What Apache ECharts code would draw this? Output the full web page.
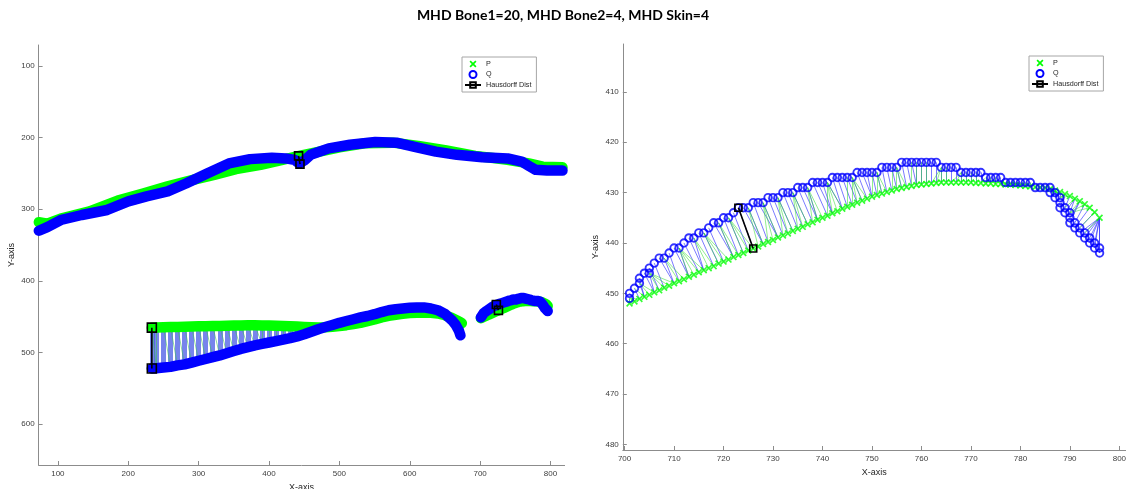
<!DOCTYPE html>
<html><head><meta charset="utf-8">
<script src="https://cdn.jsdelivr.net/npm/echarts@6/dist/echarts.min.js"></script>
<style>html,body{margin:0;padding:0;background:#fff}#c{width:1126px;height:489px}</style>
</head><body><div id="c"></div>
<script>
const titleText = 'MHD Bone1=20, MHD Bone2=4, MHD Skin=4';
const leftXTicks = [100, 200, 300, 400, 500, 600, 700, 800];
const leftYTicks = [100, 200, 300, 400, 500, 600];
const rightXTicks = [700, 710, 720, 730, 740, 750, 760, 770, 780, 790, 800];
const rightYTicks = [410, 420, 430, 440, 450, 460, 470, 480];

// Skin contour (top curve, left chart)
const skinP = [[73,318],[85,320],[104,313],[145,303],[185,288],[221,278],[256,268],[292,259],[322,252],[353,244],[388,238],[419,231],[443,225.5],[465,221],[500,213.5],[536,208],[576,207],[612,211.5],[652,218],[693,225.5],[739,231],[769,236],[789,240.5],[817,241.5]];
const skinQ = [[73,330],[85,325],[104,315],[134,308],[170,301],[200,289],[226,282],[256,275],[282,264],[312,250],[343,236],[373,230],[404,228],[424,229],[436,231],[443,236],[450,232],[459,224],[485,215],[515,210],[551,206],[581,207],[607,213],[637,219.5],[667,224],[703,227.5],[739,229],[759,233.5],[770,240],[779,245],[795,246],[817,246]];

// Bone1 contour (long lower curve, left chart)
const bone1P = [[233.5,465.3],[240,465],[250,464.7],[260,464.4],[270,464.2],[280,463.9],[290,463.6],[300,463.4],[310,463.2],[320,463],[330,462.8],[340,462.6],[350,462.4],[360,462.2],[370,462],[380,462],[390,462.1],[400,462.3],[410,462.6],[420,462.9],[430,463.3],[440,463.7],[450,464.2],[460,464.6],[470,464.9],[480,464.7],[490,464],[500,463],[510,461.8],[520,460.3],[530,458.6],[540,456.3],[550,453.8],[560,451],[570,448.8],[580,447.2],[590,446],[600,445],[610,444.4],[620,444.2],[630,444.4],[640,445.5],[650,448],[660,451.8],[670,456.5],[674,459]];
const bone1Q = [[233.5,522.2],[240,521.8],[250,521],[260,520],[270,518],[280,516.5],[290,514],[300,511.5],[310,509],[320,506.5],[330,504],[340,501],[350,498],[360,495],[370,492.5],[380,490],[390,488],[400,486],[410,484],[420,482],[430,480],[440,477.5],[450,474.5],[460,471],[470,467.5],[480,464.5],[490,461.5],[500,458.5],[510,456],[520,453.5],[530,451],[540,449],[550,446.5],[560,443.5],[570,441],[580,439.5],[590,438.5],[600,437.5],[610,437],[620,437],[630,438.5],[640,441],[650,446],[660,455],[665,461],[670,470],[672,476]];

// Bone2 contour (small arc, left chart; zoomed in right chart)
const bone2P = [[701,452],[702,451.6],[703,451.1],[704,450.7],[705,450.3],[706,449.8],[707,449.4],[708,448.9],[709,448.5],[710,448],[711,447.6],[712,447.2],[713,446.7],[714,446.3],[715,445.8],[716,445.4],[717,445],[718,444.6],[719,444.1],[720,443.7],[721,443.3],[722,442.8],[723,442.4],[724,442],[725,441.5],[726,441.1],[727,440.7],[728,440.2],[729,439.8],[730,439.4],[731,438.9],[732,438.5],[733,438.1],[734,437.6],[735,437.2],[736,436.8],[737,436.3],[738,435.9],[739,435.4],[740,435],[741,434.6],[742,434.1],[743,433.7],[744,433.2],[745,432.8],[746,432.4],[747,432],[748,431.6],[749,431.2],[750,430.8],[751,430.5],[752,430.2],[753,429.9],[754,429.6],[755,429.3],[756,429.1],[757,428.9],[758,428.7],[759,428.5],[760,428.4],[761,428.3],[762,428.2],[763,428.1],[764,428],[765,428],[766,428],[767,428],[768,428],[769,428],[770,428],[771,428.1],[772,428.1],[773,428.2],[774,428.2],[775,428.3],[776,428.3],[777,428.4],[778,428.4],[779,428.5],[780,428.6],[781,428.7],[782,428.8],[783,428.9],[784,429],[785,429.1],[786,429.3],[787,429.6],[788,429.9],[789,430.3],[790,430.7],[791,431.2],[792,431.7],[793,432.3],[794,433],[795,433.9],[796,435]];
const bone2Q = [[701,451],[701,450],[702,449],[703,448],[703,447],[704,446],[705,446],[705,445],[706,444],[707,443],[708,443],[709,442],[710,441],[711,441],[712,440],[713,439],[714,439],[715,438],[716,438],[717,437],[718,436],[719,436],[720,435],[721,435],[722,434],[723,433],[724,433],[725,433],[726,432],[727,432],[728,432],[729,431],[730,431],[731,431],[732,430],[733,430],[734,430],[735,429],[736,429],[737,429],[738,428],[739,428],[740,428],[741,428],[742,427],[743,427],[744,427],[745,427],[746,427],[747,426],[748,426],[749,426],[750,426],[751,426],[752,425],[753,425],[754,425],[755,425],[756,424],[757,424],[758,424],[759,424],[760,424],[761,424],[762,424],[763,424],[764,425],[765,425],[766,425],[767,425],[768,426],[769,426],[770,426],[771,426],[772,426],[773,427],[774,427],[775,427],[776,427],[777,428],[778,428],[779,428],[780,428],[781,428],[782,428],[783,429],[784,429],[785,429],[786,429],[786,430],[787,430],[787,431],[788,431],[788,432],[788,433],[789,433],[789,434],[790,434],[790,435],[790,436],[791,436],[791,437],[792,437],[792,438],[793,438],[793,439],[794,439],[794,440],[795,440],[795,441],[796,441],[796,442]];

// Hausdorff distance segments [P point, Q point]
const hausSkin = [[442,225.5],[444,237]];
const hausBone1 = [[233.5,465.3],[233.5,522.2]];
const hausBone2 = [[726,441.1],[723,433]];

const GREEN = '#00ff00', BLUE = '#0000ff';
const X_PATH = 'path://M0,1.7L1.7,0L5,3.3L8.3,0L10,1.7L6.7,5L10,8.3L8.3,10L5,6.7L1.7,10L0,8.3L3.3,5Z';

function nearestLinks(from, to) {
  return from.map(a => {
    let best = to[0], bd = Infinity;
    for (const b of to) {
      const d = (a[0]-b[0])*(a[0]-b[0]) + (a[1]-b[1])*(a[1]-b[1]);
      if (d < bd) { bd = d; best = b; }
    }
    return { coords: [a, best] };
  });
}

const axisLineStyle = { color: '#8c8c8c', width: 1 };
const labelStyle = { fontSize: 8, color: '#404040', fontFamily: 'Liberation Sans' };
const nameStyle = { fontSize: 9, color: '#262626', fontFamily: 'Liberation Sans' };

function xAx(grid, min, max, ticks) {
  return {
    type: 'value', gridIndex: grid, min: min, max: max,
    name: 'X-axis', nameLocation: 'middle', nameGap: grid === 0 ? 16 : 17, nameTextStyle: nameStyle,
    axisLine: { show: true, lineStyle: axisLineStyle },
    axisTick: { show: true, inside: true, length: 4, lineStyle: axisLineStyle, customValues: ticks },
    axisLabel: { ...labelStyle, margin: 5, customValues: ticks },
    splitLine: { show: false }
  };
}
function yAx(grid, min, max, ticks) {
  return {
    type: 'value', gridIndex: grid, min: min, max: max, inverse: true,
    name: 'Y-axis', nameLocation: 'middle', nameGap: 23, nameTextStyle: nameStyle,
    axisLine: { show: true, onZero: false, lineStyle: axisLineStyle },
    axisTick: { show: true, inside: true, length: 4, lineStyle: axisLineStyle, customValues: ticks },
    axisLabel: { ...labelStyle, margin: 4, customValues: ticks },
    splitLine: { show: false }
  };
}

function band(name, data, color, z) {
  return {
    type: 'line', name: name, xAxisIndex: 0, yAxisIndex: 0, data: data,
    symbol: 'none', silent: true, animation: false, z: z,
    itemStyle: { color: color },
    lineStyle: { color: color, width: 10.5, cap: 'round', join: 'round' }
  };
}
function thin(idx, links, color, width, opacity, z) {
  return {
    type: 'lines', coordinateSystem: 'cartesian2d', xAxisIndex: idx, yAxisIndex: idx,
    data: links, silent: true, animation: false, z: z,
    lineStyle: { color: color, width: width, opacity: opacity, curveness: 0 }
  };
}
function haus(idx, data, size) {
  return {
    type: 'line', name: 'Hausdorff Dist', xAxisIndex: idx, yAxisIndex: idx, data: data,
    symbol: 'rect', symbolSize: size, showSymbol: true, animation: false, z: 10,
    itemStyle: { color: 'rgba(0,0,0,0)', borderColor: '#000', borderWidth: 1.6 },
    lineStyle: { color: '#000', width: 1.6 }
  };
}

function legendAt(left, top) {
  return {
    orient: 'vertical', left: left, top: top,
    padding: [3, 5, 3, 2], itemGap: 2, itemWidth: 16, itemHeight: 7,
    backgroundColor: '#fff', borderColor: '#a6a6a6', borderWidth: 1, borderRadius: 0,
    selectedMode: false,
    textStyle: { fontSize: 7.2, color: '#262626', fontFamily: 'Liberation Sans', lineHeight: 8 },
    data: [
      { name: 'P', icon: X_PATH, itemStyle: { color: GREEN } },
      { name: 'Q', icon: 'circle', itemStyle: { color: '#fff', borderColor: BLUE, borderWidth: 2 } },
      { name: 'Hausdorff Dist' }
    ]
  };
}

const chart = echarts.init(document.getElementById('c'), null, { renderer: 'canvas' });
chart.setOption({
  backgroundColor: '#fff',
  animation: false,
  title: {
    text: titleText, left: 'center', top: 3,
    textStyle: { fontFamily: 'Lato', fontWeight: 'bold', fontSize: 14, color: '#000' }
  },
  grid: [
    { left: 38.6, top: 45, width: 526, height: 420, containLabel: false, outerBoundsMode: 'none' },
    { left: 622.8, top: 44, width: 503, height: 406, containLabel: false, outerBoundsMode: 'none' }
  ],
  xAxis: [ xAx(0, 72.6, 820, leftXTicks), xAx(1, 699.64, 801.3, rightXTicks) ],
  yAxis: [ yAx(0, 70.7, 657, leftYTicks), yAx(1, 400.5, 481.1, rightYTicks) ],
  legend: [ legendAt(462, 57), legendAt(1029, 56) ],
  series: [
    // left chart
    thin(0, nearestLinks(bone1Q, bone1P), '#4a5be6', 5, 0.75, 1),
    thin(0, nearestLinks(bone1P, bone1Q), '#3fbf5f', 1.0, 0.6, 1),
    band('P', skinP, GREEN, 2), band('P', bone1P, GREEN, 2), band('P', bone2P, GREEN, 2),
    band('Q', skinQ, BLUE, 3), band('Q', bone1Q, BLUE, 3), band('Q', bone2Q, BLUE, 3),
    haus(0, hausSkin, 8), haus(0, hausBone1, 9), haus(0, hausBone2, 8),
    // right chart
    thin(1, nearestLinks(bone2Q, bone2P), '#2b2bff', 0.7, 0.9, 1),
    thin(1, nearestLinks(bone2P, bone2Q), '#33dd33', 0.6, 0.9, 1),
    { type: 'scatter', name: 'P', xAxisIndex: 1, yAxisIndex: 1, data: bone2P, symbol: X_PATH, symbolSize: 7,
      silent: true, z: 3, itemStyle: { color: GREEN } },
    { type: 'scatter', name: 'Q', xAxisIndex: 1, yAxisIndex: 1, data: bone2Q, symbol: 'circle', symbolSize: 7.5,
      silent: true, z: 4, itemStyle: { color: 'rgba(0,0,0,0)', borderColor: BLUE, borderWidth: 1.9 } },
    haus(1, hausBone2, 7)
  ]
});
</script></body></html>
